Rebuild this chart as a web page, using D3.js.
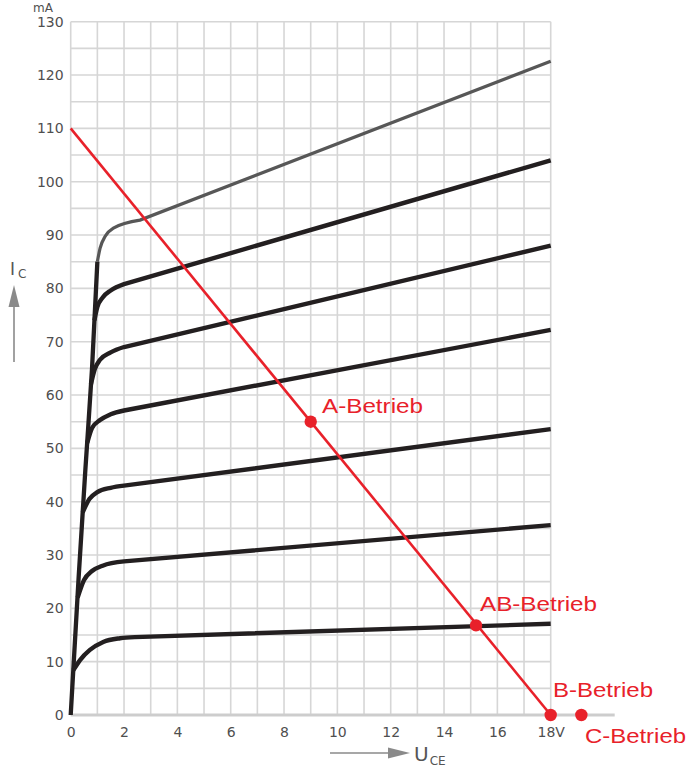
<!DOCTYPE html>
<html>
<head>
<meta charset="utf-8">
<script src="https://cdn.jsdelivr.net/npm/d3@7"></script>
<style>
  body { margin: 0; background: #fff; }
  svg { display: block; }
  .tick-label { font-family: "DejaVu Sans", sans-serif; font-size: 14px; fill: #4f4f4f; }
  .red-label { font-family: "Liberation Sans", Arial, sans-serif; font-size: 21px; fill: #e8212a; }
</style>
</head>
<body>
<div id="chart"></div>
<script>
// Kennlinienfeld (U_CE in V, I_C in mA)
var xTicks = [0, 2, 4, 6, 8, 10, 12, 14, 16, 18];
var yTicks = [0, 10, 20, 30, 40, 50, 60, 70, 80, 90, 100, 110, 120, 130];

var envelope = [[0, 0], [0.3, 26], [0.55, 46], [0.8, 65], [1.0, 85]];

// knee part of each curve, then the straight run up to 18 V
var curve1 = [[0.1, 8.4], [0.35, 10.3], [0.72, 12.2], [1.22, 13.7], [1.85, 14.4], [2.4, 14.6]];
var curve2 = [[0.26, 22], [0.5, 25.3], [0.8, 27], [1.2, 28], [2, 28.8]];
var curve3 = [[0.45, 38], [0.7, 40.5], [1.0, 41.8], [1.5, 42.6], [2, 43]];
var curve4 = [[0.62, 51], [0.8, 53.8], [1.1, 55.3], [1.5, 56.4], [2, 57.1]];
var curve5 = [[0.76, 62], [0.9, 64.8], [1.1, 66.6], [1.5, 68], [2, 69]];
var curve6 = [[0.89, 74], [1.0, 76.5], [1.2, 78.3], [1.5, 79.6], [2, 80.8]];
var curveTop = [[1.0, 85], [1.1, 87.5], [1.3, 89.8], [1.6, 91.3], [2.6, 92.8]];

var curveEnds = [17.1, 35.6, 53.6, 72.2, 88, 104, 122.6];   // I_C at 18 V

// Arbeitsgerade
var loadLine = [[0, 110], [18, 0]];

var points = [
    {name: "A-Betrieb", u: 9, i: 55},
    {name: "AB-Betrieb", u: 15.2, i: 16.8},
    {name: "B-Betrieb", u: 18, i: 0},
    {name: "C-Betrieb", u: 19.15, i: 0}
];

var width = 688, height = 771;

var svg = d3.select("#chart").append("svg")
    .attr("width", width)
    .attr("height", height);

var x = d3.scaleLinear().domain([0, 18]).range([70.7, 550.7]);
var y = d3.scaleLinear().domain([0, 130]).range([715, 21.7]);

// grid
var grid = svg.append("g").attr("class", "grid");
grid.selectAll("line.v")
    .data(d3.range(0, 19, 1))
    .enter().append("line")
    .attr("class", "v")
    .attr("x1", function(d){ return x(d); })
    .attr("x2", function(d){ return x(d); })
    .attr("y1", y(0))
    .attr("y2", y(130))
    .attr("stroke", "#d6d6d6")
    .attr("stroke-width", 1.6);

grid.selectAll("line.h")
    .data(d3.range(5, 131, 5))
    .enter().append("line")
    .attr("class", "h")
    .attr("x1", x(0))
    .attr("x2", x(18))
    .attr("y1", function(d){ return y(d); })
    .attr("y2", function(d){ return y(d); })
    .attr("stroke", "#d6d6d6")
    .attr("stroke-width", 1.6);

// baseline reaches past 18 V
svg.append("line")
    .attr("x1", x(0))
    .attr("x2", x(20.4))
    .attr("y1", y(0))
    .attr("y2", y(0))
    .attr("stroke", "#cdcdcd")
    .attr("stroke-width", 3.2);

// axes (labels only)
var xAxis = d3.axisBottom(x)
    .tickValues(xTicks)
    .tickSize(0)
    .tickPadding(12)
    .tickFormat(function(d){ return d === 18 ? "18V" : d; });

var yAxis = d3.axisLeft(y)
    .tickValues(yTicks)
    .tickSize(0)
    .tickPadding(7);

var gx = svg.append("g")
    .attr("transform", "translate(0," + y(0) + ")")
    .call(xAxis);
gx.select(".domain").remove();
gx.selectAll("text").attr("class", "tick-label").attr("font-family", null).attr("font-size", null);

var gy = svg.append("g")
    .attr("transform", "translate(" + x(0) + ",0)")
    .call(yAxis);
gy.select(".domain").remove();
gy.selectAll("text").attr("class", "tick-label").attr("font-family", null).attr("font-size", null);

svg.append("text")
    .attr("class", "tick-label")
    .attr("x", 33)
    .attr("y", 12)
    .style("font-size", "12px")
    .text("mA");

// axis titles with arrows
svg.append("line")
    .attr("x1", 14).attr("x2", 14)
    .attr("y1", 362).attr("y2", 306)
    .attr("stroke", "#8a8a8a")
    .attr("stroke-width", 1.6);
svg.append("path")
    .attr("d", "M14,285 L19.5,307 L8.5,307 Z")
    .attr("fill", "#8a8a8a");

var ic = svg.append("text")
    .attr("x", 10)
    .attr("y", 275)
    .attr("fill", "#555")
    .style("font-family", "'DejaVu Sans', sans-serif")
    .style("font-size", "17px");
ic.append("tspan").text("I");
ic.append("tspan").attr("dx", 3).attr("dy", 3).style("font-size", "12px").text("C");

svg.append("line")
    .attr("x1", 330).attr("x2", 390)
    .attr("y1", 753).attr("y2", 753)
    .attr("stroke", "#8a8a8a")
    .attr("stroke-width", 1.6);
svg.append("path")
    .attr("d", "M410,753 L388,747.5 L388,758.5 Z")
    .attr("fill", "#8a8a8a");

var uce = svg.append("text")
    .attr("x", 414)
    .attr("y", 761)
    .attr("fill", "#555")
    .style("font-family", "'DejaVu Sans', sans-serif")
    .style("font-size", "20px");
uce.append("tspan").text("U");
uce.append("tspan").attr("dx", 1).attr("dy", 4).style("font-size", "12px").text("CE");

// Kennlinien: smooth knee + straight line to 18 V
var knee = d3.line()
    .x(function(d){ return x(d[0]); })
    .y(function(d){ return y(d[1]); })
    .curve(d3.curveMonotoneX);

function kennlinie(pts, iEnd) {
    return knee(pts) + "L" + x(18) + "," + y(iEnd);
}

var blackCurves = [curve1, curve2, curve3, curve4, curve5, curve6];

svg.append("path")
    .attr("d", d3.line().x(function(d){ return x(d[0]); }).y(function(d){ return y(d[1]); }).curve(d3.curveMonotoneY)(envelope))
    .attr("fill", "none")
    .attr("stroke", "#231f20")
    .attr("stroke-width", 4.3);

svg.append("path")
    .attr("d", kennlinie(curveTop, curveEnds[6]))
    .attr("fill", "none")
    .attr("stroke", "#575757")
    .attr("stroke-width", 3.2);

svg.selectAll("path.kl")
    .data(blackCurves)
    .enter().append("path")
    .attr("class", "kl")
    .attr("d", function(d, i){ return kennlinie(d, curveEnds[i]); })
    .attr("fill", "none")
    .attr("stroke", "#231f20")
    .attr("stroke-width", 4.4)
    .attr("stroke-linejoin", "round");

// Arbeitsgerade
svg.append("path")
    .attr("d", d3.line().x(function(d){ return x(d[0]); }).y(function(d){ return y(d[1]); })(loadLine))
    .attr("fill", "none")
    .attr("stroke", "#e8212a")
    .attr("stroke-width", 2.6);

svg.selectAll("circle.pt")
    .data(points)
    .enter().append("circle")
    .attr("class", "pt")
    .attr("cx", function(d){ return x(d.u); })
    .attr("cy", function(d){ return y(d.i); })
    .attr("r", 6.2)
    .attr("fill", "#e8212a");

var labelPos = {
    "A-Betrieb": [322, 413, 101],
    "AB-Betrieb": [480, 611, 117],
    "B-Betrieb": [553, 697, 100],
    "C-Betrieb": [585, 743, 101]
};

svg.selectAll("text.red-label")
    .data(points)
    .enter().append("text")
    .attr("class", "red-label")
    .attr("x", function(d){ return labelPos[d.name][0]; })
    .attr("y", function(d){ return labelPos[d.name][1]; })
    .attr("textLength", function(d){ return labelPos[d.name][2]; })
    .attr("lengthAdjust", "spacingAndGlyphs")
    .text(function(d){ return d.name; });
</script>
</body>
</html>
